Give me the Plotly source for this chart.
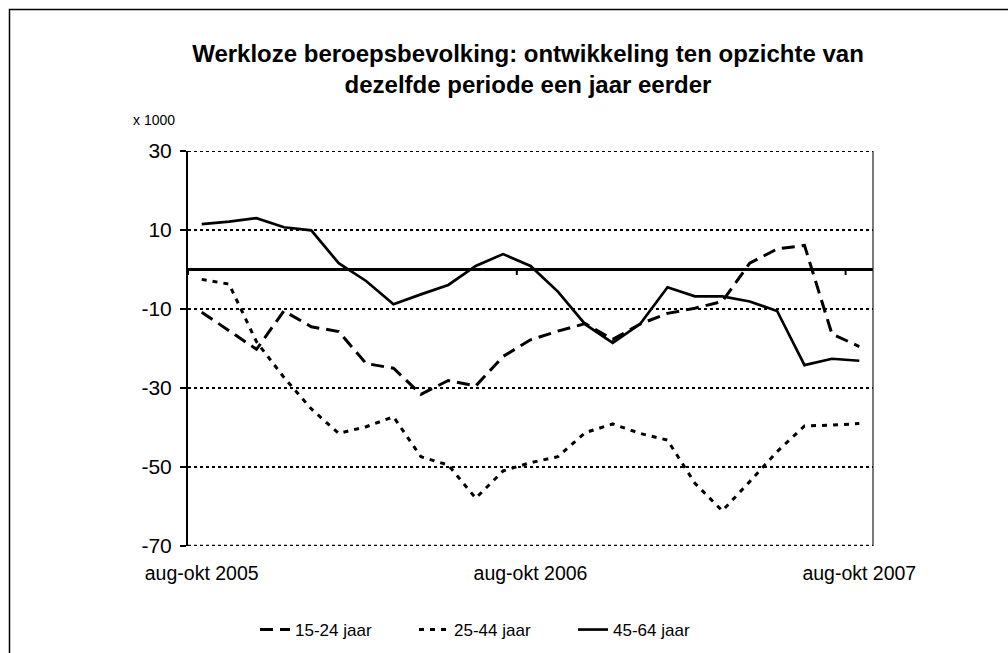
import plotly.graph_objects as go

# ---- data (x 1000) ----
periods = [
    "aug-okt 2005", "sep-nov 2005", "okt-dec 2005", "nov 2005-jan 2006", "dec 2005-feb 2006",
    "jan-mrt 2006", "feb-apr 2006", "mrt-mei 2006", "apr-jun 2006", "mei-jul 2006",
    "jun-aug 2006", "jul-sep 2006", "aug-okt 2006", "sep-nov 2006", "okt-dec 2006",
    "nov 2006-jan 2007", "dec 2006-feb 2007", "jan-mrt 2007", "feb-apr 2007", "mrt-mei 2007",
    "apr-jun 2007", "mei-jul 2007", "jun-aug 2007", "jul-sep 2007", "aug-okt 2007",
]
jaar_15_24 = [-10.8, -15.5, -20.2, -10.5, -14.5, -15.7, -23.8, -25.0, -31.6, -28.1,
              -29.5, -22.0, -17.8, -15.6, -13.7, -17.7, -13.8, -11.1, -9.8, -8.1,
              1.6, 5.2, 6.1, -16.3, -19.5]
jaar_25_44 = [-2.5, -3.7, -18.3, -27.3, -35.3, -41.5, -39.8, -37.3, -47.4, -49.5,
              -57.9, -51.0, -48.9, -47.4, -41.3, -39.1, -41.5, -43.2, -54.1, -61.1,
              -53.7, -46.1, -39.6, -39.4, -39.0]
jaar_45_64 = [11.5, 12.1, 13.0, 10.7, 9.9, 1.6, -2.9, -8.8, -6.3, -3.9,
              0.9, 3.9, 0.9, -5.6, -13.9, -18.6, -13.8, -4.5, -6.8, -6.8,
              -8.1, -10.5, -24.2, -22.6, -23.1]
label_idx = [0, 12, 24]
y_ticks = [-70, -50, -30, -10, 10, 30]
y_tick_text = ["-70", "-50", "-30", "-10", "10", "30"]

FONT = "Liberation Sans, Arial, sans-serif"

fig = go.Figure()
fig.add_trace(go.Scatter(x=periods, y=jaar_15_24, mode="lines", name="15-24 jaar",
                         line=dict(color="black", width=3, dash="13px,7px")))
fig.add_trace(go.Scatter(x=periods, y=jaar_25_44, mode="lines", name="25-44 jaar",
                         line=dict(color="black", width=3, dash="5px,6px")))
fig.add_trace(go.Scatter(x=periods, y=jaar_45_64, mode="lines", name="45-64 jaar",
                         line=dict(color="black", width=2.7)))

shapes = []
# dotted gridlines at the two ends of the value range (plotly skips them at the edges)
for v, w in ((y_ticks[0], 2.5), (y_ticks[-1], 2)):
    shapes.append(dict(type="line", xref="paper", yref="y", x0=0, x1=1, y0=v, y1=v,
                       layer="below", line=dict(color="black", width=w, dash="3px,3px")))
# boundary tick marks on the zero-crossing category axis
for i in label_idx:
    shapes.append(dict(type="line", xref="x", yref="y", x0=i - 0.5, x1=i - 0.5,
                       y0=0, y1=-1.4, line=dict(color="black", width=2)))
# plot area right edge
shapes.append(dict(type="line", xref="paper", yref="paper", x0=1, x1=1, y0=0, y1=1,
                   line=dict(color="#222", width=1.2)))
# chart border (extends past right and bottom edges of the picture)
shapes.append(dict(type="rect", xref="paper", yref="paper",
                   x0=(9.5 - 188) / 685, x1=2.0, y0=-0.6, y1=(546 - 9.5) / 395,
                   line=dict(color="black", width=1.5)))

fig.update_layout(
    width=1008, height=653, autosize=False,
    margin=dict(l=188, r=135, t=151, b=107, autoexpand=False),
    paper_bgcolor="white", plot_bgcolor="white",
    font=dict(family=FONT, color="black"),
    title=dict(text="<b>Werkloze beroepsbevolking: ontwikkeling ten opzichte van<br>dezelfde periode een jaar eerder</b>",
               x=528 / 1008, xref="container", xanchor="center",
               y=1 - 62 / 653, yref="container", yanchor="middle",
               font=dict(family=FONT, size=24, color="black")),
    xaxis=dict(type="category", categoryorder="array", categoryarray=periods,
               range=[-0.5, len(periods) - 0.5],
               tickvals=[periods[i] for i in label_idx],
               ticktext=[periods[i] for i in label_idx],
               showgrid=False, showline=False, zeroline=False, ticks="",
               ticklabelstandoff=13,
               tickfont=dict(size=19.5)),
    yaxis=dict(range=[-70, 30], tickvals=y_ticks, ticktext=y_tick_text,
               showgrid=True, gridcolor="black",
               gridwidth=2, griddash="3px,3px",
               showline=True, linecolor="black", linewidth=2,
               ticks="outside", ticklen=6, tickwidth=1.5, tickcolor="black",
               ticklabelstandoff=4,
               zeroline=True, zerolinecolor="black", zerolinewidth=2.5,
               tickfont=dict(size=21)),
    legend=dict(orientation="h", x=(255 - 188) / 685, xanchor="left",
                y=(546 - 630) / 395, yanchor="middle", font=dict(size=17),
                entrywidth=114, bgcolor="rgba(0,0,0,0)"),
    showlegend=True,
    shapes=shapes,
    annotations=[dict(text="x 1000", xref="paper", yref="paper",
                      x=(154 - 188) / 685, y=(546 - 120) / 395,
                      showarrow=False, font=dict(size=14), xanchor="center", yanchor="middle")],
)

fig.write_html("out.html", config={"displayModeBar": False},
               post_script="document.body.style.margin='0';document.body.style.overflow='hidden';")
